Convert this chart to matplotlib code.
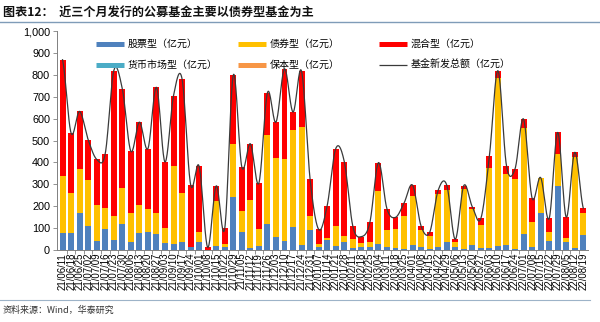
import numpy as np
import matplotlib
matplotlib.use("Agg")
import matplotlib.pyplot as plt
from matplotlib.lines import Line2D

plt.rcParams['font.family'] = ['Noto Sans CJK SC', 'DejaVu Sans']

# 周度新发基金规模（亿元），22/02/04 春节周无数据
weeks = [
    "21/06/11", "21/06/18", "21/06/25", "21/07/02", "21/07/09", "21/07/16", "21/07/23", "21/07/30",
    "21/08/06", "21/08/13", "21/08/20", "21/08/27", "21/09/03", "21/09/10", "21/09/17", "21/09/24",
    "21/10/01", "21/10/08", "21/10/15", "21/10/22", "21/10/29", "21/11/05", "21/11/12", "21/11/19",
    "21/11/26", "21/12/03", "21/12/10", "21/12/17", "21/12/24", "21/12/31", "22/01/07", "22/01/14",
    "22/01/21", "22/01/28", "22/02/11", "22/02/18", "22/02/25", "22/03/04", "22/03/11", "22/03/18",
    "22/03/25", "22/04/01", "22/04/08", "22/04/15", "22/04/22", "22/04/29", "22/05/06", "22/05/13",
    "22/05/20", "22/05/27", "22/06/03", "22/06/10", "22/06/17", "22/06/24", "22/07/01", "22/07/08",
    "22/07/15", "22/07/22", "22/07/29", "22/08/05", "22/08/12", "22/08/19",
]
stock = [79, 76, 170, 109, 42, 96, 47, 121, 38, 76, 83, 71, 33, 27, 36, 12,
         38, 0, 18, 12, 240, 83, 8, 18, 118, 59, 42, 105, 23, 91, 15, 47,
         20, 38, 11, 12, 15, 27, 12, 11, 3, 24, 15, 6, 15, 38, 15, 5,
         24, 11, 9, 20, 21, 3, 71, 15, 170, 42, 293, 38, 9, 68]
bond = [258, 186, 202, 210, 163, 98, 109, 163, 130, 130, 105, 100, 66, 358, 223, 3,
        44, 0, 205, 17, 242, 96, 221, 78, 408, 361, 372, 441, 537, 62, 11, 9,
        91, 26, 39, 18, 20, 243, 79, 83, 153, 223, 76, 58, 243, 235, 20, 273,
        163, 103, 367, 766, 325, 323, 484, 111, 161, 40, 144, 18, 414, 99]
mixed = [532, 272, 261, 185, 209, 246, 663, 452, 283, 378, 275, 572, 303, 320, 522, 284,
         300, 12, 70, 70, 317, 200, 256, 210, 192, 164, 413, 84, 256, 169, 68, 147,
         352, 340, 59, 31, 91, 129, 97, 55, 58, 49, 18, 16, 15, 24, 14, 16,
         10, 30, 52, 33, 39, 44, 43, 111, 0, 62, 100, 94, 23, 24]
money = [0] * len(weeks)
guaranteed = [0] * len(weeks)

stock = np.array(stock, float)
bond = np.array(bond, float)
mixed = np.array(mixed, float)
money = np.array(money, float)
guaranteed = np.array(guaranteed, float)
total = stock + bond + mixed + money + guaranteed

c_stock = '#4F81BD'
c_bond = '#FFC000'
c_mixed = '#FF0000'
c_money = '#4BACC6'
c_guar = '#F79646'
c_line = '#3A3A3A'


def smooth(x, y, n=20):
    # 平滑折线（Catmull-Rom 样条）
    px = np.concatenate([[2 * x[0] - x[1]], x, [2 * x[-1] - x[-2]]])
    py = np.concatenate([[y[0]], y, [y[-1]]])
    xs, ys = [], []
    t = np.linspace(0, 1, n, endpoint=False)
    for i in range(1, len(px) - 2):
        p0, p1, p2, p3 = np.array([px[i-1], py[i-1]]), np.array([px[i], py[i]]), \
            np.array([px[i+1], py[i+1]]), np.array([px[i+2], py[i+2]])
        c1 = p1 + (p2 - p0) / 6
        c2 = p2 - (p3 - p1) / 6
        b = ((1 - t) ** 3)[:, None] * p1 + (3 * (1 - t) ** 2 * t)[:, None] * c1 + \
            (3 * (1 - t) * t ** 2)[:, None] * c2 + (t ** 3)[:, None] * p2
        xs.append(b[:, 0])
        ys.append(b[:, 1])
    xs.append([x[-1]])
    ys.append([y[-1]])
    return np.concatenate(xs), np.concatenate(ys)


fig = plt.figure(figsize=(6, 3.22), dpi=100)
ax = fig.add_axes([0.095, 0.2236, 0.885, 0.68])

x = np.arange(len(weeks))
w = 0.7
ax.bar(x, stock, w, color=c_stock, zorder=2)
ax.bar(x, bond, w, bottom=stock, color=c_bond, zorder=2)
ax.bar(x, mixed, w, bottom=stock + bond, color=c_mixed, zorder=2)
ax.bar(x, money, w, bottom=stock + bond + mixed, color=c_money, zorder=2)
ax.bar(x, guaranteed, w, bottom=stock + bond + mixed + money, color=c_guar, zorder=2)
sx, sy = smooth(x.astype(float), total)
ax.plot(sx, sy, color=c_line, lw=0.9, zorder=3)

ax.set_xlim(-0.65, len(weeks) - 0.45)
ax.set_ylim(0, 1000)
ax.set_yticks(range(0, 1001, 100))
ax.set_yticklabels([f"{v:,}" for v in range(0, 1001, 100)],
                   family=['Liberation Sans', 'DejaVu Sans'], fontsize=7.8)
ax.set_xticks(x)
ax.set_xticklabels(weeks, rotation=90, family=['Liberation Sans', 'DejaVu Sans'], fontsize=6.9)
ax.set_xticks(x[:-1] + 0.5, minor=True)
ax.tick_params(axis='x', which='major', length=0, pad=2)
ax.tick_params(axis='x', which='minor', length=3, color='#808080', width=0.6)
ax.tick_params(axis='y', length=3, color='#808080', width=0.6, pad=2)
for s in ['top', 'right']:
    ax.spines[s].set_visible(False)
for s in ['left', 'bottom']:
    ax.spines[s].set_color('#808080')
    ax.spines[s].set_linewidth(0.7)

# 图例（三列两行）
W, H = 600.0, 322.0
entries = [
    (96, 44, c_stock, 3.6, '股票型（亿元）'),
    (238, 44, c_bond, 3.6, '债券型（亿元）'),
    (379, 44, c_mixed, 3.6, '混合型（亿元）'),
    (96, 65, c_money, 3.6, '货币市场型（亿元）'),
    (238, 65, c_guar, 3.6, '保本型（亿元）'),
    (379, 65, c_line, 0.9, '基金新发总额（亿元）'),
]
for px0, py0, col, lw, lab in entries:
    fig.add_artist(Line2D([px0 / W, (px0 + 28) / W], [1 - py0 / H] * 2,
                          color=col, lw=lw, solid_capstyle='butt'))
    fig.text((px0 + 32) / W, 1 - py0 / H, lab, fontsize=7.2, va='center', ha='left')

# 标题与来源
fig.text(3 / W, 1 - 12 / H, '图表12：  近三个月发行的公募基金主要以债券型基金为主',
         fontsize=8.7, fontweight='bold', va='center', ha='left', color='#111111')
fig.add_artist(Line2D([0, 1], [1 - 22 / H] * 2, color='#7F9CB8', lw=1.0))
fig.add_artist(Line2D([0, 590 / W], [1 - 300 / H] * 2, color='#9DB3C8', lw=0.8))
fig.text(3 / W, 1 - 310 / H, '资料来源：Wind，华泰研究', fontsize=6.5,
         va='center', ha='left', color='#333333')

fig.savefig('out.png', dpi=100)
